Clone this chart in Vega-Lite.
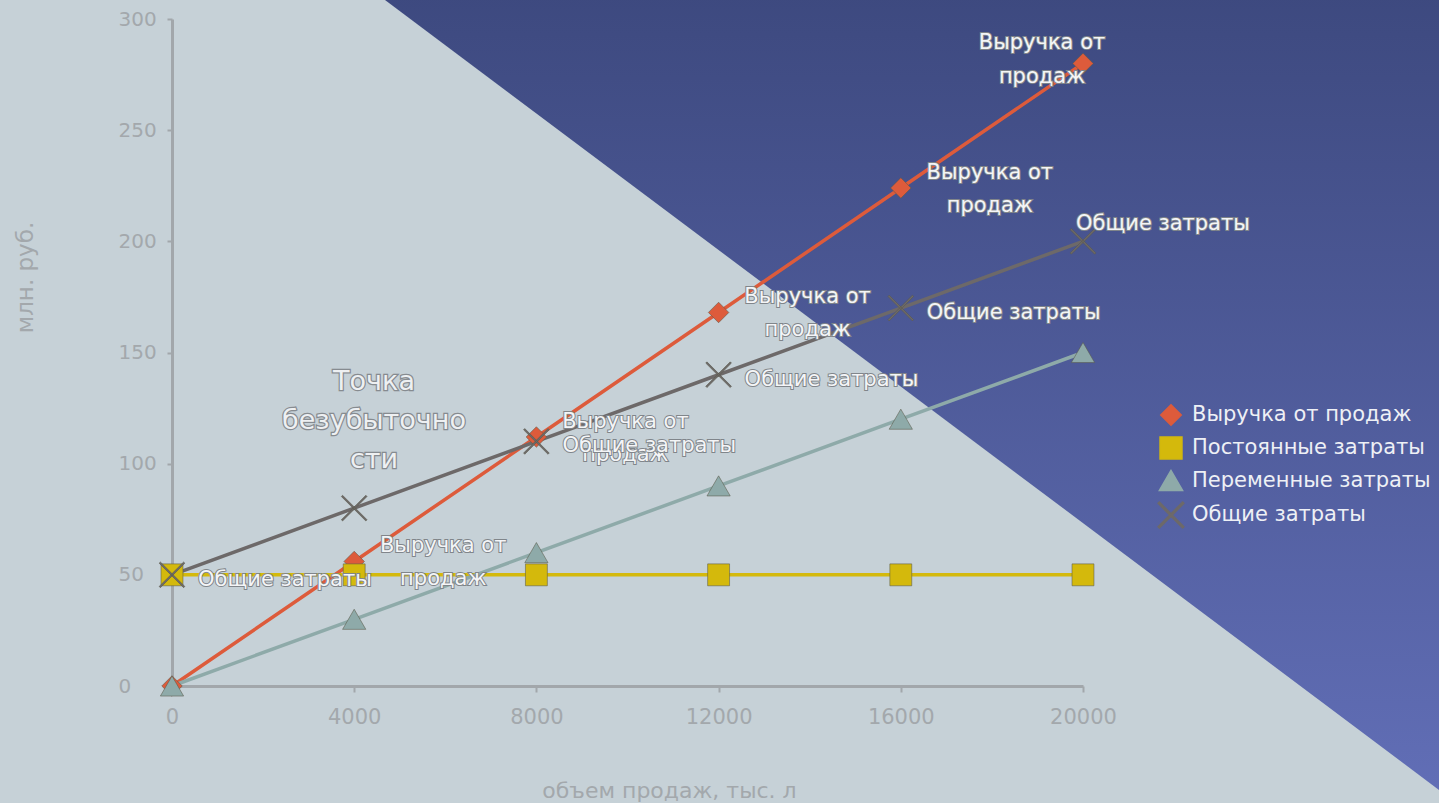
{
  "$schema": "https://vega.github.io/schema/vega-lite/v6.json",
  "width": 911,
  "height": 667,
  "autosize": {"type": "none"},
  "padding": {"left": 172, "top": 19, "right": 356, "bottom": 117},
  "background": "#c6d1d7",
  "config": {
    "view": {"stroke": null},
    "font": "DejaVu Sans",
    "axis": {
      "domainColor": "#a2a7ab",
      "domainWidth": 3,
      "tickColor": "#a2a7ab",
      "tickWidth": 2,
      "grid": false,
      "labelFlush": false,
      "labelFont": "DejaVu Sans",
      "labelFontSize": 20,
      "labelColor": "#a3a8ac",
      "titleFont": "DejaVu Sans",
      "titleFontSize": 22,
      "titleFontWeight": "normal",
      "titleColor": "#a3a8ac"
    },
    "legend": {"orient": "none", "legendX": 986, "legendY": 385}
  },
  "datasets": {
    "main": [
      {"series": "Выручка от продаж", "x": 0, "y": 0},
      {"series": "Выручка от продаж", "x": 4000, "y": 56},
      {"series": "Выручка от продаж", "x": 8000, "y": 112},
      {"series": "Выручка от продаж", "x": 12000, "y": 168},
      {"series": "Выручка от продаж", "x": 16000, "y": 224},
      {"series": "Выручка от продаж", "x": 20000, "y": 280},
      {"series": "Постоянные затраты", "x": 0, "y": 50},
      {"series": "Постоянные затраты", "x": 4000, "y": 50},
      {"series": "Постоянные затраты", "x": 8000, "y": 50},
      {"series": "Постоянные затраты", "x": 12000, "y": 50},
      {"series": "Постоянные затраты", "x": 16000, "y": 50},
      {"series": "Постоянные затраты", "x": 20000, "y": 50},
      {"series": "Переменные затраты", "x": 0, "y": 0},
      {"series": "Переменные затраты", "x": 4000, "y": 30},
      {"series": "Переменные затраты", "x": 8000, "y": 60},
      {"series": "Переменные затраты", "x": 12000, "y": 90},
      {"series": "Переменные затраты", "x": 16000, "y": 120},
      {"series": "Переменные затраты", "x": 20000, "y": 150},
      {"series": "Общие затраты", "x": 0, "y": 50},
      {"series": "Общие затраты", "x": 4000, "y": 80},
      {"series": "Общие затраты", "x": 8000, "y": 110},
      {"series": "Общие затраты", "x": 12000, "y": 140},
      {"series": "Общие затраты", "x": 16000, "y": 170},
      {"series": "Общие затраты", "x": 20000, "y": 200}
    ],
    "bg": [
      {"x": 4386, "y": 313, "y2": 313},
      {"x": 29155, "y": -67.3, "y2": 313}
    ]
  },
  "encoding": {
    "x": {
      "field": "x", "type": "quantitative",
      "scale": {"domain": [0, 20000], "nice": false, "zero": false},
      "axis": {
        "title": "объем продаж, тыс. л",
        "values": [0, 4000, 8000, 12000, 16000, 20000],
        "format": "d",
        "tickSize": 6,
        "labelPadding": 14,
        "labelFontSize": 21,
        "titleX": 497,
        "titleY": 104,
        "titleBaseline": "middle"
      }
    },
    "y": {
      "field": "y", "type": "quantitative",
      "scale": {"domain": [0, 300], "nice": false, "zero": false},
      "axis": {
        "title": "млн. руб.",
        "values": [0, 50, 100, 150, 200, 250, 300],
        "tickSize": 5,
        "labelAlign": "left",
        "labelPadding": 49,
        "titleX": -147,
        "titleY": 258,
        "titleBaseline": "middle",
        "titleAlign": "center",
        "titleAngle": -90,
        "titleFontSize": 23
      }
    }
  },
  "layer": [
    {
      "data": {"name": "bg"},
      "mark": {
        "type": "area",
        "opacity": 1,
        "fillOpacity": 1,
        "clip": false,
        "zindex": -1,
        "color": {
          "gradient": "linear", "x1": 0, "y1": 0, "x2": 0, "y2": 1,
          "stops": [
            {"offset": 0, "color": "#3d497f"},
            {"offset": 1, "color": "#6370b9"}
          ]
        }
      },
      "encoding": {"y2": {"field": "y2"}}
    },
    {
      "data": {"name": "main"},
      "mark": {"type": "line", "strokeWidth": 3.5},
      "encoding": {
        "color": {
          "field": "series", "type": "nominal",
          "scale": {
            "domain": ["Выручка от продаж", "Постоянные затраты", "Переменные затраты", "Общие затраты"],
            "range": ["#dd5b3b", "#d4b90c", "#8eaaa9", "#6d6969"]
          },
          "legend": {"title": null, "labelFontSize": 21, "labelColor": "#eef0f5", "labelLimit": 400, "rowPadding": 5, "labelOffset": 8}
        }
      }
    },
    {
      "data": {"name": "main"},
      "mark": {"type": "point", "filled": true, "opacity": 1, "stroke": "#5a5a48", "strokeOpacity": 0.55, "strokeWidth": 1},
      "encoding": {
        "color": {
          "field": "series", "type": "nominal",
          "scale": {
            "domain": ["Выручка от продаж", "Постоянные затраты", "Переменные затраты", "Общие затраты"],
            "range": ["#dd5b3b", "#d4b90c", "#8eaaa9", "#6d6969"]
          },
          "legend": {"title": null, "labelFontSize": 21, "labelColor": "#eef0f5", "labelLimit": 400, "rowPadding": 5, "labelOffset": 8}
        },
        "shape": {
          "field": "series", "type": "nominal",
          "scale": {
            "domain": ["Выручка от продаж", "Постоянные затраты", "Переменные затраты", "Общие затраты"],
            "range": ["diamond", "square", "triangle-up", "M-0.95,-1.05L1.05,0.95L0.95,1.05L-1.05,-0.95ZM-0.95,1.05L-1.05,0.95L0.95,-1.05L1.05,-0.95Z"]
          },
          "legend": {"title": null, "labelFontSize": 21, "labelColor": "#eef0f5", "labelLimit": 400, "rowPadding": 5, "labelOffset": 8}
        },
        "size": {
          "field": "series", "type": "nominal",
          "scale": {
            "domain": ["Выручка от продаж", "Постоянные затраты", "Переменные затраты", "Общие затраты"],
            "range": [420, 600, 340, 560]
          },
          "legend": null
        }
      }
    },
    {
      "data": {"name": "main"},
      "transform": [{"filter": "datum.series === 'Выручка от продаж' && datum.x > 0 && datum.x < 20000"}],
      "mark": {"type": "text", "text": ["Выручка от", "продаж"], "align": "center", "baseline": "middle", "dx": 89, "dy": -15, "lineHeight": 33, "fontSize": 21, "fill": "#80858a", "stroke": "#80858a", "strokeWidth": 2}
    },
    {
      "data": {"name": "main"},
      "transform": [{"filter": "datum.series === 'Выручка от продаж' && datum.x > 0 && datum.x < 20000"}],
      "mark": {"type": "text", "text": ["Выручка от", "продаж"], "align": "center", "baseline": "middle", "dx": 89, "dy": -15, "lineHeight": 33, "fontSize": 21, "fill": "#f4f5f7"}
    },
    {
      "data": {"name": "main"},
      "transform": [{"filter": "datum.series === 'Выручка от продаж' && datum.x === 20000"}],
      "mark": {"type": "text", "text": ["Выручка от", "продаж"], "align": "center", "baseline": "middle", "dx": -41, "dy": -20, "lineHeight": 34, "fontSize": 21, "fill": "#80858a", "stroke": "#80858a", "strokeWidth": 2}
    },
    {
      "data": {"name": "main"},
      "transform": [{"filter": "datum.series === 'Выручка от продаж' && datum.x === 20000"}],
      "mark": {"type": "text", "text": ["Выручка от", "продаж"], "align": "center", "baseline": "middle", "dx": -41, "dy": -20, "lineHeight": 34, "fontSize": 21, "fill": "#f4f5f7"}
    },
    {
      "data": {"name": "main"},
      "transform": [{"filter": "datum.series === 'Общие затраты' && datum.x !== 4000 && datum.x < 20000"}],
      "mark": {"type": "text", "text": "Общие затраты", "align": "left", "baseline": "middle", "dx": 26, "dy": 5, "fontSize": 21, "fill": "#80858a", "stroke": "#80858a", "strokeWidth": 2}
    },
    {
      "data": {"name": "main"},
      "transform": [{"filter": "datum.series === 'Общие затраты' && datum.x !== 4000 && datum.x < 20000"}],
      "mark": {"type": "text", "text": "Общие затраты", "align": "left", "baseline": "middle", "dx": 26, "dy": 5, "fontSize": 21, "fill": "#f4f5f7"}
    },
    {
      "data": {"name": "main"},
      "transform": [{"filter": "datum.series === 'Общие затраты' && datum.x === 20000"}],
      "mark": {"type": "text", "text": "Общие затраты", "align": "left", "baseline": "middle", "dx": -7, "dy": -17, "fontSize": 21, "fill": "#80858a", "stroke": "#80858a", "strokeWidth": 2}
    },
    {
      "data": {"name": "main"},
      "transform": [{"filter": "datum.series === 'Общие затраты' && datum.x === 20000"}],
      "mark": {"type": "text", "text": "Общие затраты", "align": "left", "baseline": "middle", "dx": -7, "dy": -17, "fontSize": 21, "fill": "#f4f5f7"}
    },
    {
      "data": {"name": "main"},
      "transform": [{"filter": "datum.series === 'Общие затраты' && datum.x === 0"}],
      "mark": {"type": "text", "text": ["Точка", "безубыточно", "сти"], "align": "center", "baseline": "middle", "lineHeight": 39, "fontSize": 27, "fill": "#868b90", "stroke": "#868b90", "strokeWidth": 2.5},
      "encoding": {
        "x": {"datum": 4435, "type": "quantitative"},
        "y": {"datum": 136.7, "type": "quantitative"}
      }
    },
    {
      "data": {"name": "main"},
      "transform": [{"filter": "datum.series === 'Общие затраты' && datum.x === 0"}],
      "mark": {"type": "text", "text": ["Точка", "безубыточно", "сти"], "align": "center", "baseline": "middle", "lineHeight": 39, "fontSize": 27, "fill": "#eef0f2"},
      "encoding": {
        "x": {"datum": 4435, "type": "quantitative"},
        "y": {"datum": 136.7, "type": "quantitative"}
      }
    }
  ]
}
